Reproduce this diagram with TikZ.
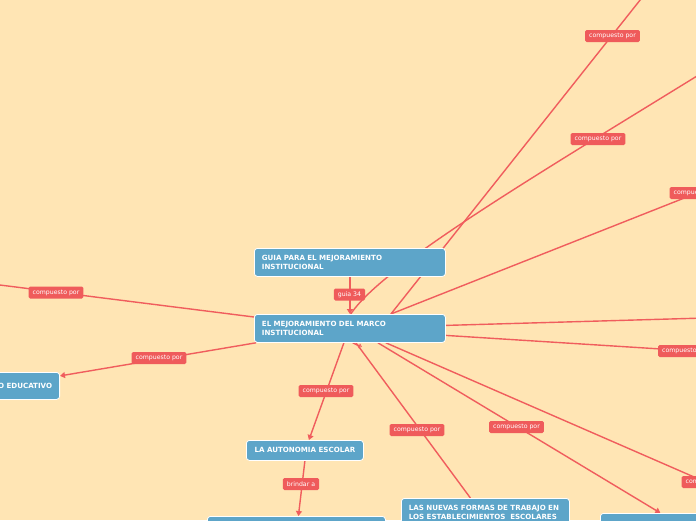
\documentclass[tikz,border=0pt]{standalone}
\usepackage{fontspec}
\setmainfont{DejaVu Sans}
\usetikzlibrary{arrows.meta, calc, backgrounds}
\usepackage{xcolor}
\definecolor{MapCream}{HTML}{FFE5B4}
\definecolor{MapTopic}{HTML}{5DA5C9}
\definecolor{MapLine}{HTML}{F05D5D}
\definecolor{MapLabel}{HTML}{EF5B5B}
\definecolor{MapWhite}{HTML}{FFFFFF}
\pgfdeclarelayer{links}
\pgfsetlayers{background,links,main}
\tikzset{
    % Topic boxes - rounded, white border
    topic/.style={
        rectangle,
        rounded corners=3pt,
        draw=MapWhite,
        fill=MapTopic,
        line width=0.8pt,
        text=MapWhite,
        font=\fontsize{7.1}{9}\selectfont\bfseries,
        align=left,
        inner xsep=7.5pt,
        inner ysep=4pt,
        minimum height=28pt,
        anchor=north west
    },
    % Relation labels
    tag/.style={
        rectangle,
        rounded corners=1.5pt,
        fill=MapLabel,
        text=MapWhite,
        font=\fontsize{6.2}{7}\selectfont,
        inner xsep=4pt,
        inner ysep=1pt,
        minimum height=12pt
    },
    % Connectors
    link/.style={
        draw=MapLine,
        line width=1.4pt
    },
    linkarrow/.style={
        link,
        -{Triangle[length=5pt, width=6pt]}
    },
    hookarrow/.style={
        link,
        -{Triangle[length=3pt, width=5pt, open]}
    }
}

\begin{document}
\begin{tikzpicture}[x=1pt, y=-1pt]
    \begin{pgfonlayer}{background}
        \fill[MapCream] (0,0) rectangle (696,520);
    \end{pgfonlayer}
    \useasboundingbox (0,0) rectangle (696,520);

    \node[topic, text width=176pt] (guia) at (254,248) {GUIA PARA EL MEJORAMIENTO\\INSTITUCIONAL};

    \node[topic, text width=176pt] (marco) at (254,314) {EL MEJORAMIENTO DEL MARCO\\INSTITUCIONAL};

    \node[topic, anchor=north east, text width=105pt, align=right, minimum height=27pt] (educ) at (60,372) {O EDUCATIVO};

    \node[topic, minimum width=117pt, minimum height=20pt, align=center] (auto) at (246,440) {LA AUTONOMIA ESCOLAR};

    \node[topic, minimum width=178pt] (brinda) at (207,516) {};

    \node[topic, text width=153pt] (nuevas) at (401,498) {LAS NUEVAS FORMAS DE TRABAJO EN\\LOS ESTABLECIMIENTOS\ \ ESCOLARES};

    \node[topic, minimum width=140pt] (derecha) at (600,513) {};

    \begin{pgfonlayer}{links}
        \coordinate (haciaA) at (656,-20);
        \coordinate (haciaB) at (740,176);
        \coordinate (haciaC) at (710,68);
        \coordinate (haciaD) at (740,317);
        \coordinate (haciaE) at (740,354);
        \coordinate (haciaF) at (-20,282.5);
        \coordinate (haciaG) at (740,497);

        \draw[linkarrow] (guia.south) -- (marco.north);
        \draw[link] ([xshift=41pt]marco.north) -- (haciaA);
        \draw[link] ([xshift=41pt]marco.north) -- (haciaB);
        \draw[hookarrow] (haciaC) .. controls (480,210) and (290,320) .. ([shift={(12pt,-4pt)}]marco.south);
        \draw[link] ([yshift=3pt]marco.east) -- (haciaD);
        \draw[link] ([yshift=-7pt]marco.east) -- (haciaE);
        \draw[link] ([yshift=-3pt]marco.north west) -- (haciaF);
        \draw[linkarrow] ([xshift=2pt]marco.south west) -- ([yshift=10pt]educ.east);
        \draw[linkarrow] ([xshift=-6pt]marco.south) -- ([xshift=4pt]auto.north);
        \draw[linkarrow] (auto.south) -- ([xshift=2pt]brinda.north);
        \draw[link] ([xshift=6pt]marco.south) -- ([xshift=-15pt]nuevas.north);
        \draw[linkarrow] ([xshift=28pt]marco.south) -- ([xshift=-10pt]derecha.north);
        \draw[link] ([xshift=36pt]marco.south) -- (haciaG);

        \node[tag] (t1) at (349.5,294.5) {guia 34};
        \node[tag] (t2) at (612.5,36) {compuesto por};
        \node[tag] (t3) at (697,193) {compuesto por};
        \node[tag] (t4) at (598,139) {compuesto por};
        \node[tag] (t5) at (685.5,351) {compuesto por};
        \node[tag] (t6) at (56,292.5) {compuesto por};
        \node[tag] (t7) at (159,358) {compuesto por};
        \node[tag] (t8) at (326,391) {compuesto por};
        \node[tag] (t9) at (301,484) {brindar a};
        \node[tag] (t10) at (417,430) {compuesto por};
        \node[tag] (t11) at (516.5,427) {compuesto por};
        \node[tag] (t12) at (709,482) {compuesto por};
    \end{pgfonlayer}
\end{tikzpicture}
\end{document}
